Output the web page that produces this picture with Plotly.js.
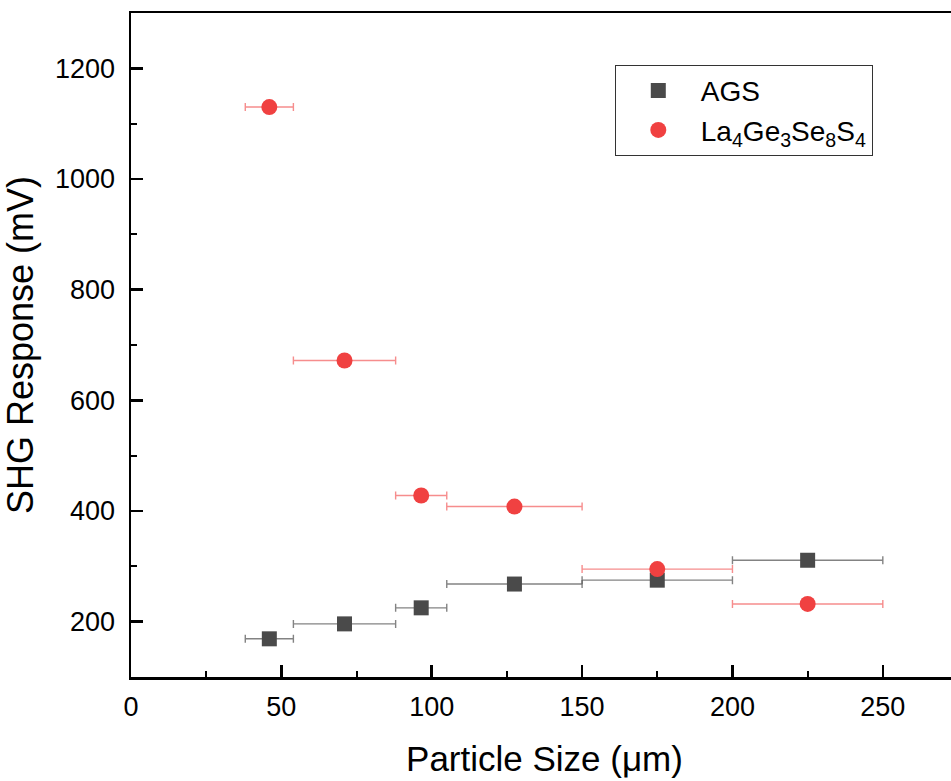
<!DOCTYPE html>
<html><head><meta charset="utf-8">
<script src="https://cdn.plot.ly/plotly-3.0.1.min.js"></script>
<style>html,body{margin:0;padding:0;overflow:hidden;background:#fff}#chart{width:1000px;height:781px}</style>
</head><body><div id="chart"></div>
<script>
const sizes = [46, 71, 96.5, 127.5, 175, 225];
const errPlus = [8, 17, 8.5, 22.5, 25, 25];
const errMinus = [8, 17, 8.5, 22.5, 25, 25];
const agsValues = [169, 196, 225, 268, 275, 311];
const laValues = [1130, 672, 428, 408, 295, 232];
const seriesNames = ['AGS', 'La<sub>4</sub>Ge<sub>3</sub>Se<sub>8</sub>S<sub>4</sub>'];
const xTickVals = [0, 50, 100, 150, 200, 250];
const yTickVals = [200, 400, 600, 800, 1000, 1200];

const traces = [
  {x: sizes, y: agsValues, name: seriesNames[0], type: 'scatter', mode: 'markers',
   marker: {symbol: 'square', size: 15, color: '#4a4a4a'},
   error_x: {type: 'data', symmetric: false, array: errPlus, arrayminus: errMinus, color: 'rgba(90,90,90,0.75)', thickness: 1.4, width: 4}},
  {x: sizes, y: laValues, name: seriesNames[1], type: 'scatter', mode: 'markers',
   marker: {symbol: 'circle', size: 16, color: '#f04141'},
   error_x: {type: 'data', symmetric: false, array: errPlus, arrayminus: errMinus, color: 'rgba(240,65,65,0.6)', thickness: 1.4, width: 4}}
];

const fontFam = 'Arial, "Liberation Sans", sans-serif';
const layout = {
  width: 1000, height: 781,
  margin: {l: 131, r: 42, t: 13, b: 104},
  paper_bgcolor: '#fff', plot_bgcolor: '#fff',
  font: {family: fontFam, color: '#000'},
  showlegend: true,
  legend: {x: 0.585, y: 0.922, xanchor: 'left', yanchor: 'top',
    bordercolor: '#333', borderwidth: 1, bgcolor: '#fff',
    font: {size: 28, family: fontFam}, itemwidth: 75, tracegroupgap: 0},
  xaxis: {range: [0, 275], showgrid: false, zeroline: false,
    showline: true, linecolor: '#000', linewidth: 2.5, mirror: true,
    ticks: 'inside', ticklen: 12, tickwidth: 2.5, tickcolor: '#000',
    tickvals: xTickVals, tickfont: {size: 27}, ticklabelstandoff: 4,
    minor: {dtick: 25, tick0: 0, ticks: 'inside', ticklen: 6, tickwidth: 2, tickcolor: '#000'},
    title: {text: 'Particle Size (μm)', font: {size: 35}, standoff: 26}},
  yaxis: {range: [100, 1300], showgrid: false, zeroline: false,
    showline: true, linecolor: '#000', linewidth: 2.5, mirror: true,
    ticks: 'inside', ticklen: 12, tickwidth: 2.5, tickcolor: '#000',
    tickvals: yTickVals, tickfont: {size: 27}, ticklabelstandoff: 8,
    minor: {dtick: 100, tick0: 0, ticks: 'inside', ticklen: 6, tickwidth: 2, tickcolor: '#000'},
    title: {text: 'SHG Response (mV)', font: {size: 36}, standoff: 20}}
};

Plotly.newPlot('chart', traces, layout, {displayModeBar: false, staticPlot: true});
</script></body></html>
